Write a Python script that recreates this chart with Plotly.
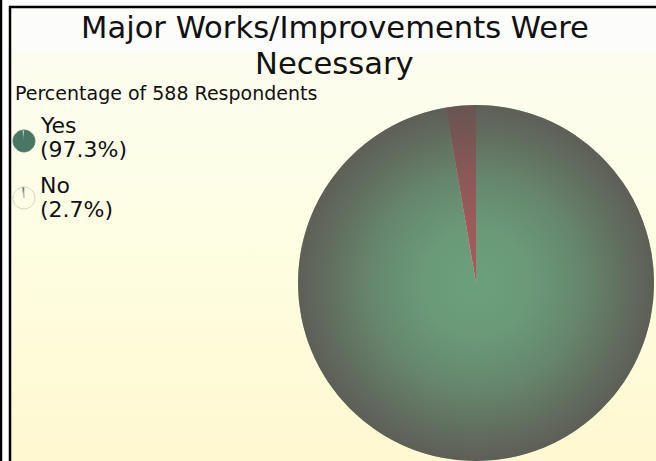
import base64
import plotly.graph_objects as go

# data
labels = ["Yes", "No"]
percentages = [97.3, 2.7]
respondents = 588
title_lines = ["Major Works/Improvements Were", "Necessary"]
slice_colors = ["#6ba07c", "#a65a5c"]

W, H = 656, 461
FONT = "DejaVu Sans"

# pie placement in pixels (left, top, size)
pie_left, pie_top, pie_size = 298, 105, 356


def px_x(v):
    return v / W


def px_y(v):
    return 1 - v / H


def svg_uri(svg):
    return "data:image/svg+xml;base64," + base64.b64encode(svg.encode()).decode()


bg_svg = """<svg xmlns='http://www.w3.org/2000/svg' width='100' height='100' preserveAspectRatio='none'>
<defs><linearGradient id='g' x1='0' y1='0' x2='0' y2='1'>
<stop offset='0' stop-color='#fcfcfa'/><stop offset='0.098' stop-color='#fcfcfa'/>
<stop offset='0.1' stop-color='#fcfdef'/><stop offset='0.5' stop-color='#fefee3'/>
<stop offset='1' stop-color='#fff8d0'/></linearGradient></defs>
<rect width='100' height='100' fill='url(#g)'/></svg>"""

shade_svg = """<svg xmlns='http://www.w3.org/2000/svg' width='100' height='100'>
<defs><radialGradient id='r' cx='0.5' cy='0.5' r='0.5'>
<stop offset='0' stop-color='rgb(92,84,80)' stop-opacity='0'/>
<stop offset='0.3' stop-color='rgb(92,84,80)' stop-opacity='0.08'/>
<stop offset='0.6' stop-color='rgb(92,84,80)' stop-opacity='0.35'/>
<stop offset='0.85' stop-color='rgb(92,84,80)' stop-opacity='0.68'/>
<stop offset='1' stop-color='rgb(92,84,80)' stop-opacity='0.86'/>
</radialGradient></defs>
<circle cx='50' cy='50' r='50' fill='url(#r)'/></svg>"""

fig = go.Figure()

fig.add_trace(go.Pie(
    labels=labels,
    values=percentages,
    marker=dict(colors=slice_colors, line=dict(width=0)),
    sort=False,
    direction="clockwise",
    rotation=0,
    textinfo="none",
    hoverinfo="label+percent",
    domain=dict(x=[px_x(pie_left), px_x(pie_left + pie_size)],
                y=[px_y(pie_top + pie_size), px_y(pie_top)]),
    showlegend=False,
))

# legend icons: small pies, one per category
icon_styles = [
    (["#497766", "#ffffff"], "#497766"),
    (["rgba(0,0,0,0)", "#444444"], "#c9c9bf"),
]
icon_tops = [130, 187]
for i, lab in enumerate(labels):
    cols, edge = icon_styles[i]
    t = icon_tops[i]
    fig.add_trace(go.Pie(
        labels=labels,
        values=percentages,
        marker=dict(colors=cols, line=dict(width=0.8, color=edge)),
        sort=False,
        direction="clockwise",
        rotation=0,
        textinfo="none",
        hoverinfo="skip",
        domain=dict(x=[px_x(13), px_x(35)], y=[px_y(t + 22), px_y(t)]),
        showlegend=False,
    ))

# text placed by its vertical middle (baseline - 0.346 em for DejaVu Sans)
annotations = []
for line, mid in zip(title_lines, [27.1, 63.4]):
    annotations.append(dict(text=line, x=px_x(334.5), y=px_y(mid), xanchor="center",
                            yanchor="middle", font=dict(size=30.6, color="#111111")))
annotations.append(dict(text=f"Percentage of {respondents} Respondents", x=px_x(13),
                        y=px_y(93.5), xanchor="left", yanchor="middle",
                        font=dict(size=19, color="#111111")))
text_mids = [(125.4, 149.4), (185.4, 209.4)]
for i, lab in enumerate(labels):
    a, b = text_mids[i]
    annotations.append(dict(text=lab, x=px_x(38), y=px_y(a), xanchor="left", yanchor="middle",
                            font=dict(size=22, color="#111111")))
    annotations.append(dict(text=f"({percentages[i]}%)", x=px_x(38), y=px_y(b), xanchor="left",
                            yanchor="middle", font=dict(size=22, color="#111111")))
for a in annotations:
    a.update(xref="paper", yref="paper", showarrow=False)

shapes = [
    dict(type="line", x0=px_x(1), x1=px_x(1), y0=0, y1=1, line=dict(color="black", width=2.5)),
    dict(type="line", x0=px_x(10), x1=px_x(10), y0=0, y1=px_y(6), line=dict(color="black", width=2.5)),
    dict(type="line", x0=px_x(9), x1=1, y0=px_y(7), y1=px_y(7), line=dict(color="black", width=2.5)),
]
for s in shapes:
    s.update(xref="paper", yref="paper")

fig.update_layout(
    width=W, height=H,
    margin=dict(l=0, r=0, t=0, b=0),
    paper_bgcolor="white",
    plot_bgcolor="white",
    font=dict(family=FONT, color="#111111"),
    annotations=annotations,
    shapes=shapes,
    images=[
        dict(source=svg_uri(bg_svg), xref="paper", yref="paper", x=px_x(11), y=px_y(8),
             sizex=1 - px_x(11), sizey=px_y(8), xanchor="left", yanchor="top",
             sizing="stretch", layer="below"),
        dict(source=svg_uri(shade_svg), xref="paper", yref="paper", x=px_x(pie_left),
             y=px_y(pie_top), sizex=pie_size / W, sizey=pie_size / H, xanchor="left",
             yanchor="top", sizing="stretch", layer="above"),
    ],
    showlegend=False,
)

fig.write_html("out.html", config={"displayModeBar": False},
               post_script="document.body.style.margin='0';document.body.style.overflow='hidden';")
